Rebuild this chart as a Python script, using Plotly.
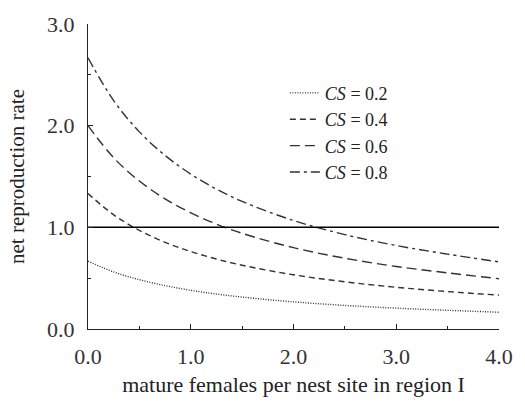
import plotly.graph_objects as go

x_vals = [0, 0.25, 0.5, 0.75, 1.0, 1.25, 1.5, 2.0, 2.5, 3.0, 3.5, 4.0]
cs_02 = [0.667, 0.561, 0.485, 0.427, 0.381, 0.344, 0.314, 0.267, 0.232, 0.205, 0.184, 0.165]
cs_04 = [1.333, 1.123, 0.970, 0.853, 0.762, 0.688, 0.627, 0.533, 0.464, 0.410, 0.368, 0.333]
cs_06 = [2.000, 1.684, 1.455, 1.280, 1.143, 1.032, 0.941, 0.800, 0.696, 0.615, 0.552, 0.495]
cs_08 = [2.667, 2.246, 1.939, 1.707, 1.524, 1.376, 1.255, 1.067, 0.928, 0.821, 0.736, 0.660]
ref_x = [0, 4.0]
ref_y = [1.0, 1.0]
labels = ["<i>CS</i> = 0.2", "<i>CS</i> = 0.4", "<i>CS</i> = 0.6", "<i>CS</i> = 0.8"]
tick_vals = [0, 1, 2, 3, 4]
tick_text = ["0.0", "1.0", "2.0", "3.0", "4.0"]
ytick_vals = [0, 1, 2, 3]
ytick_text = ["0.0", "1.0", "2.0", "3.0"]

series = [cs_02, cs_04, cs_06, cs_08]
dashes = ["1px,1.5px", "6px,4px", "10px,5px", "10px,4px,3px,4px"]

fig = go.Figure()
for ys, lab, d in zip(series, labels, dashes):
    fig.add_trace(go.Scatter(x=x_vals, y=ys, mode="lines", name=lab,
                             line=dict(color="#333333", width=1.4, dash=d, shape="spline")))
fig.add_trace(go.Scatter(x=ref_x, y=ref_y, mode="lines", showlegend=False,
                         line=dict(color="black", width=1.5)))

font = "Liberation Serif, Times New Roman, serif"
fig.update_layout(
    width=525, height=405,
    margin=dict(l=88, r=17, t=17, b=68),
    plot_bgcolor="white", paper_bgcolor="white",
    font=dict(family=font, color="#222222"),
    showlegend=True,
    legend=dict(x=0.479, y=0.834, xanchor="left", yanchor="top",
                font=dict(family=font, size=18, color="#222222"),
                bgcolor="rgba(0,0,0,0)", tracegroupgap=0, itemwidth=30),
    xaxis=dict(range=[0, 4], tickvals=tick_vals, ticktext=tick_text,
               showgrid=False, zeroline=False, showline=True, linecolor="#222222", linewidth=1.3,
               ticks="inside", ticklen=5, tickcolor="#222222",
               minor=dict(dtick=0.5, ticks="inside", ticklen=3, tickcolor="#222222"),
               tickfont=dict(size=22, family=font, color="#333333"),
               ticklabelstandoff=7, ticklabeloverflow="allow",
               title=dict(text="mature females per nest site in region I", font=dict(size=22, family=font), standoff=9)),
    yaxis=dict(range=[0, 3], tickvals=ytick_vals, ticktext=ytick_text,
               showgrid=False, zeroline=False, showline=True, linecolor="#222222", linewidth=1.3,
               ticks="inside", ticklen=5, tickcolor="#222222",
               minor=dict(dtick=0.5, ticks="inside", ticklen=3, tickcolor="#222222"),
               tickfont=dict(size=22, family=font, color="#333333"),
               ticklabelstandoff=8, ticklabeloverflow="allow",
               title=dict(text="net reproduction rate", font=dict(size=21, family=font), standoff=16)),
)
fig.write_html("out.html", config={"displayModeBar": False},
               post_script="document.body.style.margin='0';document.body.style.overflow='hidden';")
